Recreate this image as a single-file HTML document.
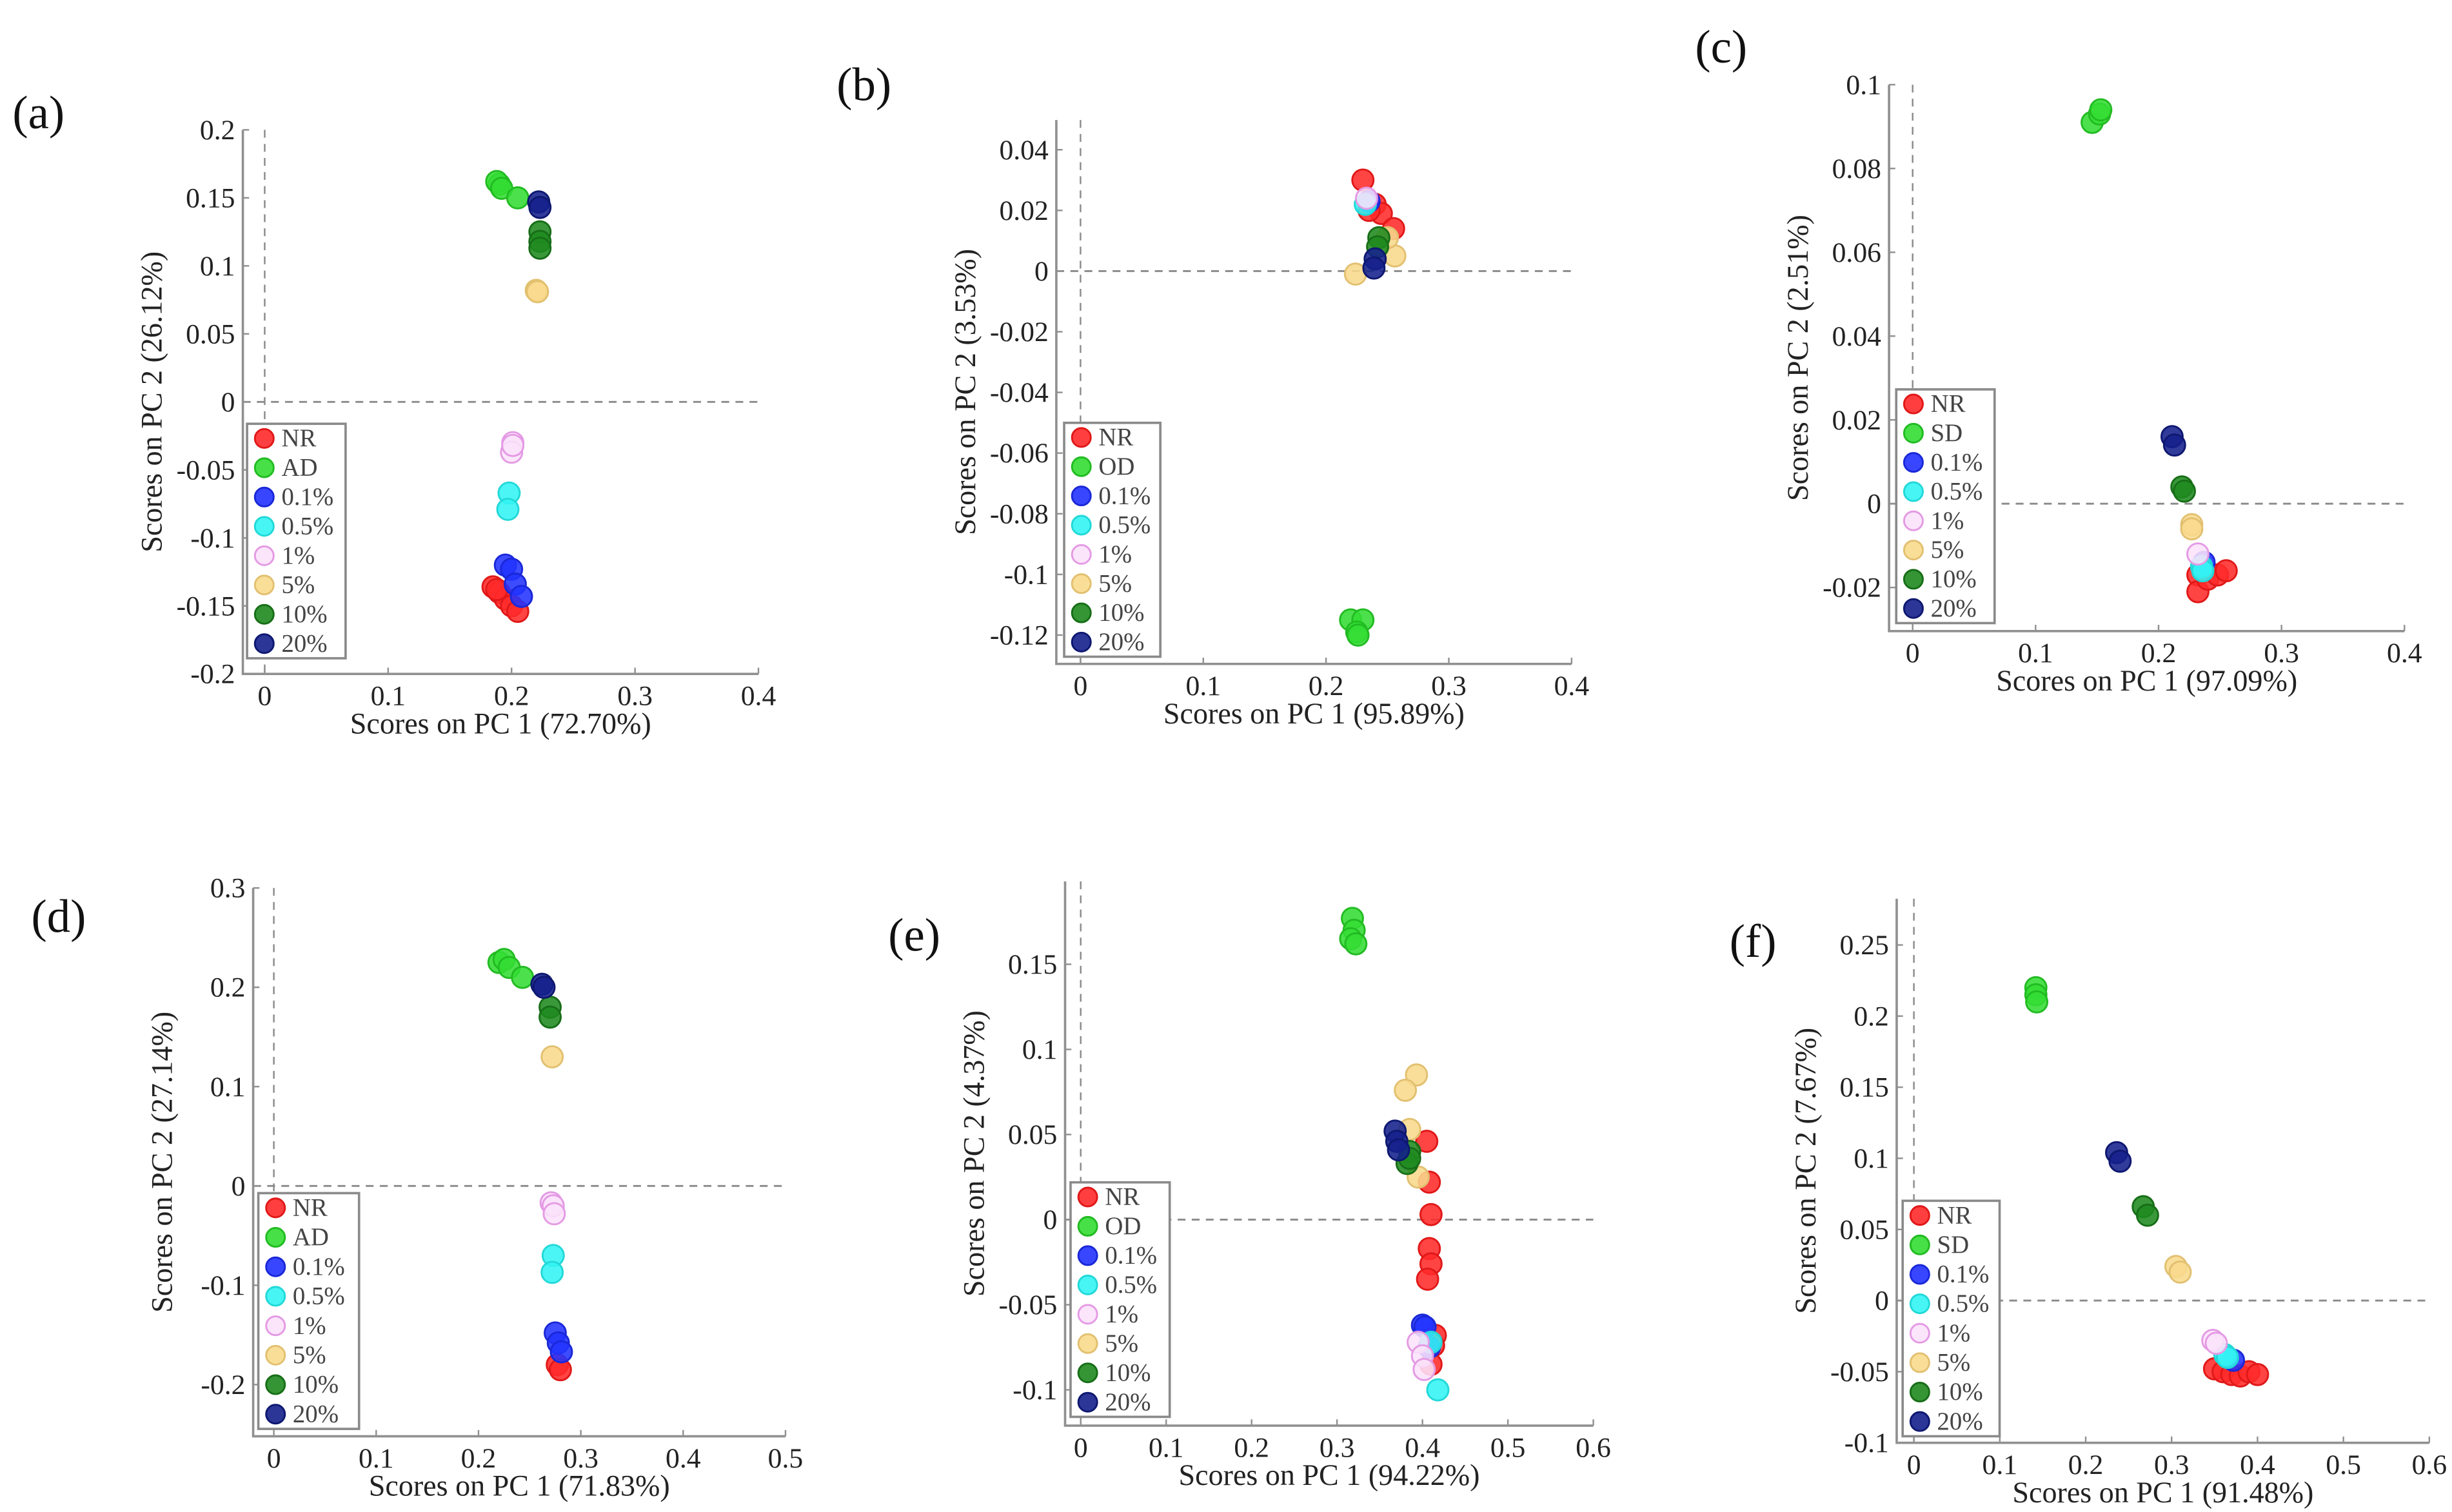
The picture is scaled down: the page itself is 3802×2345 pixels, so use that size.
<!DOCTYPE html>
<html><head><meta charset="utf-8"><style>
html,body{margin:0;padding:0;background:#fff;}
svg{display:block;}
text{font-family:"Liberation Serif",serif;}
</style></head><body>
<svg id="fig" width="3802" height="2345" viewBox="0 0 1568 967" xmlns="http://www.w3.org/2000/svg"></svg>
<script>
// ---------- data ----------
const seriesNames = ["NR","DRY","0.1%","0.5%","1%","5%","10%","20%"];
const fills  = ["#ff2a2a","#33dd33","#2233ff","#33f4f4","#fbe2fb","#f8da8c","#1f8a1f","#14208c"];
const strokes= ["#e01818","#22bb22","#1a28d8","#22d8d8","#e49ae4","#e2c070","#176e17","#0e1870"];

const aNR=[[0.185,-0.136],[0.19,-0.14],[0.195,-0.145],[0.2,-0.15],[0.205,-0.154],[0.188,-0.138]];
const aDry=[[0.19,0.16],[0.188,0.162],[0.192,0.157],[0.205,0.15]];
const a01=[[0.195,-0.12],[0.2,-0.123],[0.203,-0.134],[0.208,-0.143]];
const a05=[[0.198,-0.067],[0.197,-0.079]];
const a1=[[0.201,-0.03],[0.2,-0.037],[0.201,-0.032]];
const a5=[[0.22,0.082],[0.221,0.081]];
const a10=[[0.223,0.125],[0.223,0.118],[0.223,0.113]];
const a20=[[0.222,0.147],[0.223,0.143]];

const bNR=[[0.23,0.03],[0.24,0.022],[0.245,0.019],[0.255,0.014],[0.235,0.02]];
const bDry=[[0.22,-0.115],[0.23,-0.115],[0.225,-0.119],[0.226,-0.12]];
const b01=[[0.235,0.023]];
const b05=[[0.232,0.022]];
const b1=[[0.233,0.024]];
const b5=[[0.224,-0.001],[0.256,0.005],[0.25,0.011]];
const b10=[[0.243,0.011],[0.242,0.008]];
const b20=[[0.24,0.004],[0.239,0.001]];

const cNR=[[0.232,-0.017],[0.232,-0.021],[0.24,-0.018],[0.248,-0.017],[0.255,-0.016]];
const cDry=[[0.146,0.091],[0.152,0.093],[0.153,0.094]];
const c01=[[0.237,-0.014]];
const c05=[[0.235,-0.015],[0.236,-0.016]];
const c1=[[0.232,-0.012]];
const c5=[[0.227,-0.005],[0.227,-0.006]];
const c10=[[0.219,0.004],[0.221,0.003]];
const c20=[[0.211,0.016],[0.213,0.014]];

const dNR=[[0.277,-0.18],[0.28,-0.185]];
const dDry=[[0.22,0.225],[0.225,0.228],[0.23,0.22],[0.243,0.21]];
const d01=[[0.275,-0.148],[0.278,-0.158],[0.281,-0.167]];
const d05=[[0.273,-0.07],[0.272,-0.087]];
const d1=[[0.271,-0.017],[0.273,-0.02],[0.274,-0.028]];
const d5=[[0.272,0.13]];
const d10=[[0.27,0.18],[0.27,0.17]];
const d20=[[0.262,0.203],[0.264,0.2]];

const eNR=[[0.405,0.046],[0.408,0.022],[0.41,0.003],[0.408,-0.017],[0.41,-0.026],[0.406,-0.035],[0.415,-0.068],[0.413,-0.074],[0.41,-0.085]];
const eDry=[[0.318,0.177],[0.32,0.17],[0.316,0.165],[0.322,0.162]];
const e01=[[0.4,-0.062],[0.403,-0.063],[0.408,-0.075]];
const e05=[[0.41,-0.072],[0.418,-0.1]];
const e1=[[0.395,-0.072],[0.4,-0.08],[0.402,-0.088]];
const e5=[[0.393,0.085],[0.38,0.076],[0.385,0.053],[0.395,0.025]];
const e10=[[0.385,0.04],[0.382,0.033],[0.385,0.036]];
const e20=[[0.368,0.052],[0.37,0.046],[0.372,0.041]];

const fNR=[[0.35,-0.048],[0.36,-0.05],[0.37,-0.052],[0.38,-0.053],[0.39,-0.05],[0.4,-0.052]];
const fDry=[[0.142,0.22],[0.142,0.215],[0.143,0.21]];
const f01=[[0.372,-0.042]];
const f05=[[0.362,-0.038],[0.365,-0.04]];
const f1=[[0.348,-0.028],[0.352,-0.03]];
const f5=[[0.305,0.024],[0.31,0.02]];
const f10=[[0.267,0.066],[0.272,0.06]];
const f20=[[0.236,0.104],[0.24,0.098]];

const xTicks4=[0,0.1,0.2,0.3,0.4];
const xTicks5=[0,0.1,0.2,0.3,0.4,0.5];
const xTicks6=[0,0.1,0.2,0.3,0.4,0.5,0.6];
const yTicksA=[-0.2,-0.15,-0.1,-0.05,0,0.05,0.1,0.15,0.2];
const yTicksB=[-0.12,-0.1,-0.08,-0.06,-0.04,-0.02,0,0.02,0.04];
const yTicksC=[-0.02,0,0.02,0.04,0.06,0.08,0.1];
const yTicksD=[-0.2,-0.1,0,0.1,0.2,0.3];
const yTicksE=[-0.1,-0.05,0,0.05,0.1,0.15];
const yTicksF=[-0.1,-0.05,0,0.05,0.1,0.15,0.2,0.25];

const xTitles=["Scores on PC 1 (72.70%)","Scores on PC 1 (95.89%)","Scores on PC 1 (97.09%)","Scores on PC 1 (71.83%)","Scores on PC 1 (94.22%)","Scores on PC 1 (91.48%)"];
const yTitles=["Scores on PC 2 (26.12%)","Scores on PC 2 (3.53%)","Scores on PC 2 (2.51%)","Scores on PC 2 (27.14%)","Scores on PC 2 (4.37%)","Scores on PC 2 (7.67%)"];
const dryNames=["AD","OD","SD","AD","OD","SD"];
const panelLetters=["(a)","(b)","(c)","(d)","(e)","(f)"];

// ---------- layout (pixel geometry, thumbnail units) ----------
const panels=[
 {id:"a",L:155.3,R:485,T:83,B:431,xmin:-0.0177,xmax:0.4,ymin:-0.2,ymax:0.2,xt:xTicks4,yt:yTicksA,series:[aNR,aDry,a01,a05,a1,a5,a10,a20],leg:[158,271,221,421],lab:[8,82]},
 {id:"b",L:675.5,R:1005,T:76.7,B:424.6,xmin:-0.0197,xmax:0.4,ymin:-0.1295,ymax:0.0498,xt:xTicks4,yt:yTicksB,series:[bNR,bDry,b01,b05,b1,b5,b10,b20],leg:[680.5,270.4,742,420],lab:[535,64]},
 {id:"c",L:1208,R:1537.6,T:54.1,B:403.6,xmin:-0.0192,xmax:0.4,ymin:-0.0304,ymax:0.1,xt:xTicks4,yt:yTicksC,series:[cNR,cDry,c01,c05,c1,c5,c10,c20],leg:[1212.6,249,1275.5,398.5],lab:[1084,40]},
 {id:"d",L:161.9,R:502.3,T:567.9,B:918.6,xmin:-0.0202,xmax:0.5,ymin:-0.252,ymax:0.3,xt:xTicks5,yt:yTicksD,series:[dNR,dDry,d01,d05,d1,d5,d10,d20],leg:[165.2,763.1,229.6,913.9],lab:[20,596]},
 {id:"e",L:681.1,R:1018.9,T:563.7,B:911.8,xmin:-0.0183,xmax:0.6,ymin:-0.121,ymax:0.1987,xt:xTicks6,yt:yTicksE,series:[eNR,eDry,e01,e05,e1,e5,e10,e20],leg:[684.6,756.2,748,906.2],lab:[568,608]},
 {id:"f",L:1212.9,R:1553.5,T:574.8,B:922.8,xmin:-0.02,xmax:0.6,ymin:-0.1,ymax:0.2825,xt:xTicks6,yt:yTicksF,series:[fNR,fDry,f01,f05,f1,f5,f10,f20],leg:[1216.7,768,1278.7,918.6],lab:[1106,612]}
];

const NS="http://www.w3.org/2000/svg";
const svg=document.getElementById("fig");
function mk(tag,attrs,parent){const e=document.createElementNS(NS,tag);for(const k in attrs)e.setAttribute(k,attrs[k]);(parent||svg).appendChild(e);return e;}
function fmt(v){return (Math.round(v*1000)/1000).toString();}

panels.forEach((p,pi)=>{
  const g=mk("g",{});
  
  
  const sx=v=>p.L+(v-p.xmin)/(p.xmax-p.xmin)*(p.R-p.L);
  const sy=v=>p.B-(v-p.ymin)/(p.ymax-p.ymin)*(p.B-p.T);

  const lab=mk("text",{x:p.lab[0],y:p.lab[1],"font-size":30,fill:"#111"},g);
  lab.textContent=panelLetters[pi];
  
  

  const zx=mk("line",{x1:sx(0),x2:sx(0),y1:p.T,y2:p.B,stroke:"#8a8a8a","stroke-width":1,"stroke-dasharray":"5,4"},g);
  
  
  const zy=mk("line",{x1:p.L,x2:p.R,y1:sy(0),y2:sy(0),stroke:"#8a8a8a","stroke-width":1.2,"stroke-dasharray":"5,4"},g);
  
  

  const ax=mk("path",{d:`M${p.L},${p.T} L${p.L},${p.B} L${p.R},${p.B}`,fill:"none",stroke:"#909090","stroke-width":1.5},g);
  
  

  p.xt.forEach(v=>{
    const X=sx(v);
    mk("line",{x1:X,x2:X,y1:p.B,y2:p.B-4,stroke:"#909090","stroke-width":1},g);
    const t=mk("text",{x:X,y:p.B+20,"font-size":18,"text-anchor":"middle",fill:"#222"},g);
    t.textContent=fmt(v);
    
    
  });
  p.yt.forEach(v=>{
    const Y=sy(v);
    mk("line",{x1:p.L,x2:p.L+4,y1:Y,y2:Y,stroke:"#909090","stroke-width":1},g);
    const t=mk("text",{x:p.L-5,y:Y+6,"font-size":18,"text-anchor":"end",fill:"#222"},g);
    t.textContent=fmt(v);
    
    
  });
  const xt=mk("text",{x:(p.L+p.R)/2,y:p.B+38,"font-size":19,"text-anchor":"middle",fill:"#222"},g);
  xt.textContent=xTitles[pi];
  
  
  const yc=(p.T+p.B)/2, yx=p.L-52;
  const yt=mk("text",{x:yx,y:yc,"font-size":19,"text-anchor":"middle",fill:"#222",transform:`rotate(-90 ${yx} ${yc})`},g);
  yt.textContent=yTitles[pi];
  
  

  p.series.forEach((arr,si)=>{
    arr.forEach(pt=>{
      const c=mk("circle",{cx:sx(pt[0]),cy:sy(pt[1]),r:6.8,fill:fills[si],stroke:strokes[si],"stroke-width":1.2,"fill-opacity":0.88},g);
      
      
    });
  });

  const [lx1,ly1,lx2,ly2]=p.leg;
  const lg=mk("g",{},g);
  
  
  mk("rect",{x:lx1,y:ly1,width:lx2-lx1,height:ly2-ly1,fill:"#fff",stroke:"#8a8a8a","stroke-width":1.5},lg);
  const step=(ly2-ly1)/8;
  seriesNames.forEach((n,si)=>{
    const cy=ly1+step*(si+0.5);
    const e=mk("g",{},lg);
    
    
    mk("circle",{cx:lx1+11,cy:cy,r:6,fill:fills[si],stroke:strokes[si],"stroke-width":1.2,"fill-opacity":0.9},e);
    const t=mk("text",{x:lx1+22,y:cy+5,"font-size":16,fill:"#444"},e);
    t.textContent=si===1?dryNames[pi]:n;
  });
});
</script>
</body></html>
